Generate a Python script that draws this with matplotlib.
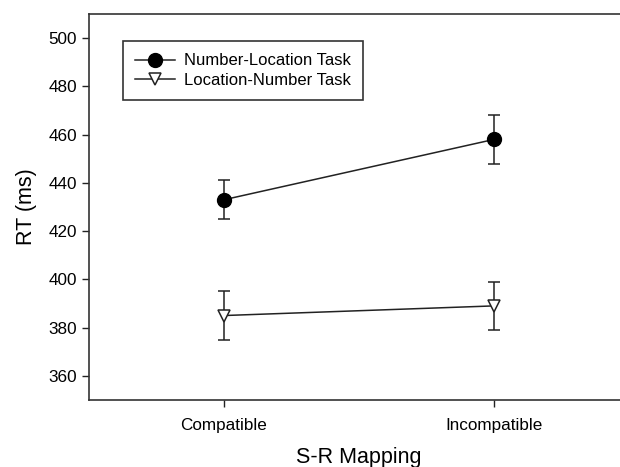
import matplotlib.pyplot as plt
from matplotlib.lines import Line2D
import numpy as np

plt.rcParams['font.family'] = ['Liberation Sans', 'DejaVu Sans']

categories = ['Compatible', 'Incompatible']
num_loc_rt = [433, 458]
num_loc_err = [8, 10]
loc_num_rt = [385, 389]
loc_num_err = [10, 10]
yticks = [360, 380, 400, 420, 440, 460, 480, 500]

x = np.arange(1, len(categories) + 1)
col = '#222222'

fig = plt.figure(figsize=(6.2, 4.67), dpi=100)
ax = fig.add_axes([0.1435, 0.1435, 0.871, 0.8266])

ax.errorbar(x, num_loc_rt, yerr=num_loc_err, color=col, lw=1.1,
            marker='o', ms=10, mfc='black', mec='black',
            capsize=4, elinewidth=1.1, capthick=1.1)
ax.errorbar(x, loc_num_rt, yerr=loc_num_err, color=col, lw=1.1,
            marker='v', ms=8.5, mfc='white', mec=col, mew=1.1,
            capsize=4, elinewidth=1.1, capthick=1.1)

ax.set_xlim(0.5, 2.5)
ax.set_ylim(350, 510)
ax.set_xticks(x)
ax.set_xticklabels(categories)
ax.set_yticks(yticks)
ax.tick_params(labelsize=12.3, direction='out', length=5, width=1, color=col)
ax.tick_params(axis='x', pad=8)
for s in ax.spines.values():
    s.set_color('#333333')
    s.set_linewidth(1.2)

ax.set_xlabel('S-R Mapping', fontsize=15.5, labelpad=10)
ax.set_ylabel('RT (ms)', fontsize=15.5, labelpad=8)

handles = [
    Line2D([], [], color=col, lw=1.1, marker='o', ms=10, mfc='black', mec='black'),
    Line2D([], [], color=col, lw=1.1, marker='v', ms=8.5, mfc='white', mec=col, mew=1.1),
]
leg = ax.legend(handles, ['Number-Location Task', 'Location-Number Task'],
                loc='upper left', bbox_to_anchor=(0.063, 0.93), fontsize=12,
                fancybox=False, edgecolor='#333333', framealpha=1,
                handlelength=2.35, borderpad=0.75, labelspacing=0.25,
                handletextpad=0.55, borderaxespad=0)
leg.get_frame().set_linewidth(1.2)

fig.savefig('out.png', dpi=100)
